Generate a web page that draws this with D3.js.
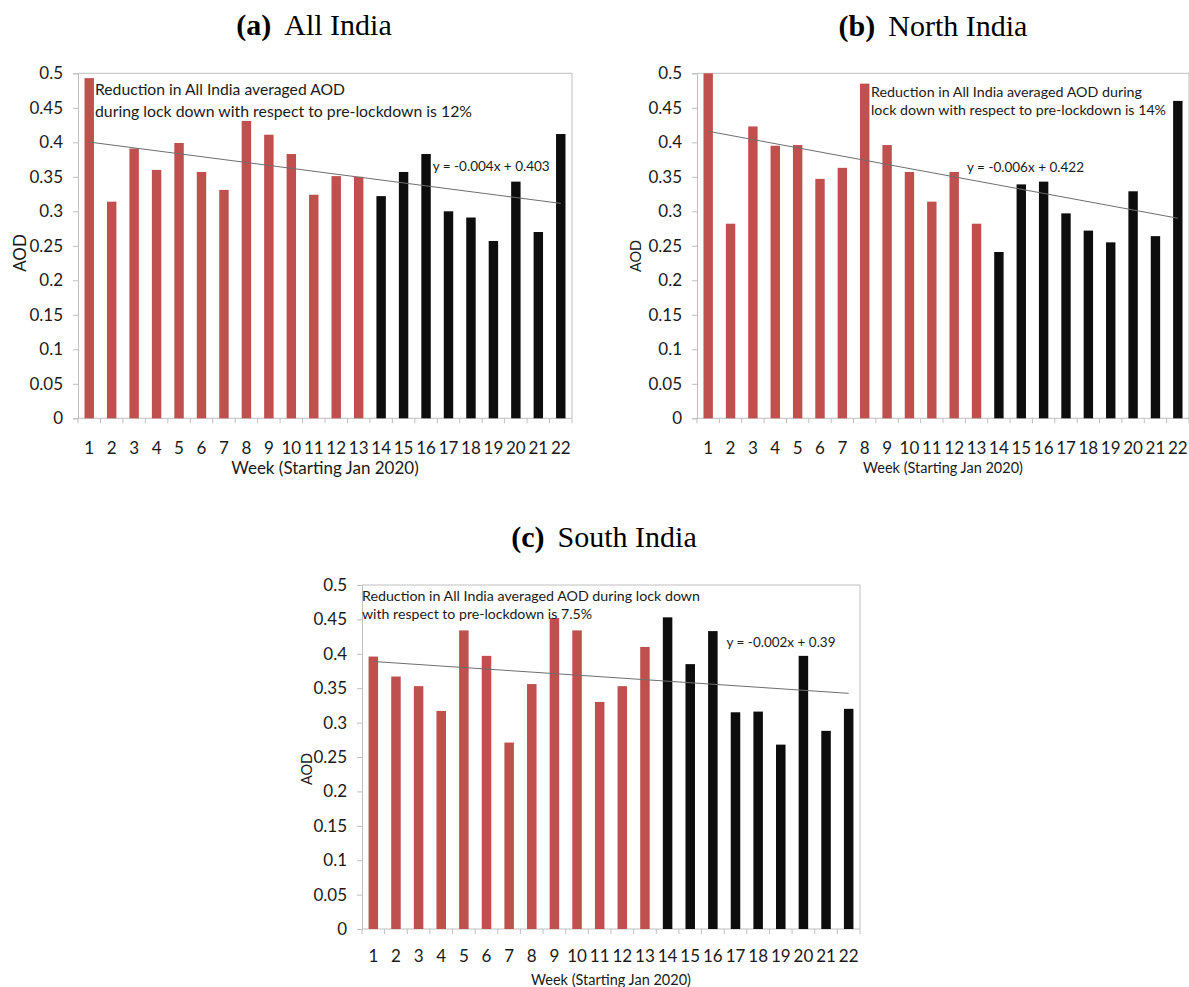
<!DOCTYPE html>
<html><head><meta charset="utf-8">
<script src="https://cdn.jsdelivr.net/npm/d3@7"></script>
<style>body{margin:0;background:#fff} svg{display:block}</style>
</head><body><svg id="chart" width="1189" height="987"></svg>
<script>
// ---------- data ----------
const weeks = [1,2,3,4,5,6,7,8,9,10,11,12,13,14,15,16,17,18,19,20,21,22];
const aodAllIndia   = [0.493,0.314,0.391,0.360,0.399,0.357,0.331,0.431,0.411,0.383,0.324,0.351,0.350,0.322,0.357,0.383,0.300,0.291,0.257,0.343,0.270,0.412];
// week 1 of North India runs above the 0.5 axis limit (clipped in the chart)
const aodNorthIndia = [0.568,0.282,0.423,0.395,0.396,0.347,0.363,0.485,0.396,0.357,0.314,0.357,0.282,0.241,0.339,0.343,0.297,0.272,0.255,0.329,0.264,0.460];
const aodSouthIndia = [0.396,0.367,0.353,0.317,0.434,0.397,0.271,0.356,0.452,0.434,0.330,0.353,0.410,0.453,0.385,0.433,0.315,0.316,0.268,0.397,0.288,0.320];
const lockdownFirstWeek = 14;
const yTickValues = [0,0.05,0.1,0.15,0.2,0.25,0.3,0.35,0.4,0.45,0.5];
const panelLetters = ["(a)","(b)","(c)"];
const panelNames = ["All India","North India","South India"];
const noteLinesA = ["Reduction in All India averaged AOD","during lock down with respect to pre-lockdown is 12%"];
const noteLinesB = ["Reduction in All India averaged AOD during","lock down with respect to pre-lockdown is 14%"];
const noteLinesC = ["Reduction in All India averaged AOD during lock down","with respect to pre-lockdown is 7.5%"];
const equations = ["y = -0.004x + 0.403","y = -0.006x + 0.422","y = -0.002x + 0.39"];
const xAxisTitle = "Week (Starting Jan 2020)";
const yAxisTitle = "AOD";

// ---------- layout ----------
const panels = [
  {values: aodAllIndia, notes: noteLinesA, x0:78, x1:572, y0:73.3, y1:418.3, tickPad:24, tickSize:17,
   weekY:474, weekSize:17, aodX:26, aodY:253, aodSize:17,
   noteX:95, noteY:[95,116.7], noteSize:16, noteW:[250,377],
   eqX:432.7, eqY:171, eqSize:14, eqW:117, titleX:314, titleY:35},
  {values: aodNorthIndia, notes: noteLinesB, x0:697, x1:1189, y0:73.3, y1:418.3, tickPad:24, tickSize:17,
   weekY:473, weekSize:14.5, aodX:641, aodY:256, aodSize:14.5,
   noteX:871, noteY:[96.7,115], noteSize:14, noteW:[271,295],
   eqX:967, eqY:172, eqSize:14, eqW:117, titleX:933, titleY:36},
  {values: aodSouthIndia, notes: noteLinesC, x0:362, x1:860, y0:585, y1:929, tickPad:21, tickSize:17,
   weekY:985, weekSize:14.5, aodX:312, aodY:769, aodSize:14.5,
   noteX:362, noteY:[601,619], noteSize:14, noteW:[338,230],
   eqX:726.5, eqY:647, eqSize:14, eqW:109, titleX:604, titleY:547}
];

const RED = "#c0504d", BLACK = "#0d0d0d", GRID = "#bfbfbf", TXT = "#1a1a1a";
const FONT = "Lato, 'Open Sans', sans-serif";
const svg = d3.select("#chart");

panels.forEach((p, i) => {
  const x = d3.scaleBand().domain(weeks).range([p.x0, p.x1]).paddingInner(0.58).paddingOuter(0.29);
  const xb = d3.scaleBand().domain(weeks).range([p.x0, p.x1]);
  const y = d3.scaleLinear().domain([0, 0.5]).range([p.y1, p.y0]);
  const g = svg.append("g");

  // plot border top/right
  g.append("line").attr("x1", p.x0).attr("x2", p.x1).attr("y1", p.y0).attr("y2", p.y0).attr("stroke", GRID);
  g.append("line").attr("x1", p.x1).attr("x2", p.x1).attr("y1", p.y0).attr("y2", p.y1).attr("stroke", GRID);

  // y axis
  const ya = g.append("g").attr("transform", `translate(${p.x0},0)`)
    .call(d3.axisLeft(y).tickValues(yTickValues).tickSize(5).tickPadding(10).tickFormat(d => String(+d.toFixed(2))));
  ya.selectAll("path,line").attr("stroke", GRID);
  ya.selectAll("text").attr("font-family", FONT).attr("font-size", p.tickSize).attr("fill", TXT);

  // x axis line and boundary ticks
  g.append("line").attr("x1", p.x0).attr("x2", p.x1).attr("y1", p.y1).attr("y2", p.y1).attr("stroke", GRID);
  const bounds = weeks.map(w => xb(w)).concat([p.x1]);
  g.selectAll(".bt").data(bounds).join("line")
    .attr("x1", d => d).attr("x2", d => d).attr("y1", p.y1).attr("y2", p.y1 + 5).attr("stroke", GRID);
  const xa = g.append("g").attr("transform", `translate(0,${p.y1})`)
    .call(d3.axisBottom(xb).tickSize(0).tickPadding(p.tickPad));
  xa.select("path").remove();
  xa.selectAll("text").attr("font-family", FONT).attr("font-size", p.tickSize).attr("fill", TXT);

  // bars (clipped at the 0.5 axis maximum)
  const clip = v => Math.min(0.5, v);
  g.selectAll(".bar").data(weeks).join("rect")
    .attr("x", w => x(w)).attr("width", x.bandwidth())
    .attr("y", (w, k) => y(clip(p.values[k])))
    .attr("height", (w, k) => y(0) - y(clip(p.values[k])))
    .attr("fill", w => w >= lockdownFirstWeek ? BLACK : RED);

  // linear trend (least squares on the data)
  const mx = d3.mean(weeks), my = d3.mean(p.values);
  const sxy = d3.sum(weeks, (w, k) => (w - mx) * (p.values[k] - my));
  const sxx = d3.sum(weeks, w => (w - mx) * (w - mx));
  const slope = sxy / sxx, icpt = my - slope * mx;
  const first = weeks[0], last = weeks[weeks.length - 1];
  g.append("line")
    .attr("x1", xb(first) + xb.bandwidth() / 2).attr("y1", y(icpt + slope * first))
    .attr("x2", xb(last) + xb.bandwidth() / 2).attr("y2", y(icpt + slope * last))
    .attr("stroke", "#6e6e6e").attr("stroke-width", 1);

  // equation
  g.append("text").attr("x", p.eqX).attr("y", p.eqY).attr("font-family", FONT).attr("font-size", p.eqSize)
    .attr("fill", TXT).attr("textLength", p.eqW).attr("lengthAdjust", "spacingAndGlyphs").text(equations[i]);

  // note
  p.notes.forEach((t, k) => {
    g.append("text").attr("x", p.noteX).attr("y", p.noteY[k]).attr("font-family", FONT).attr("font-size", p.noteSize)
      .attr("fill", TXT).attr("textLength", p.noteW[k]).attr("lengthAdjust", "spacingAndGlyphs").text(t);
  });

  // axis titles
  g.append("text").attr("x", (p.x0 + p.x1) / 2).attr("y", p.weekY).attr("text-anchor", "middle")
    .attr("font-family", FONT).attr("font-size", p.weekSize).attr("fill", TXT).text(xAxisTitle);
  g.append("text").attr("transform", `translate(${p.aodX},${p.aodY}) rotate(-90)`).attr("text-anchor", "middle")
    .attr("font-family", FONT).attr("font-size", p.aodSize).attr("fill", TXT).text(yAxisTitle);

  // panel title
  const tt = svg.append("text").attr("x", p.titleX).attr("y", p.titleY).attr("text-anchor", "middle")
    .attr("font-family", "'Liberation Serif', 'Times New Roman', serif").attr("font-size", 30).attr("fill", "#000");
  tt.append("tspan").attr("font-weight", "bold").text(panelLetters[i]);
  tt.append("tspan").attr("dx", 13).text(panelNames[i]);
});
</script></body></html>
